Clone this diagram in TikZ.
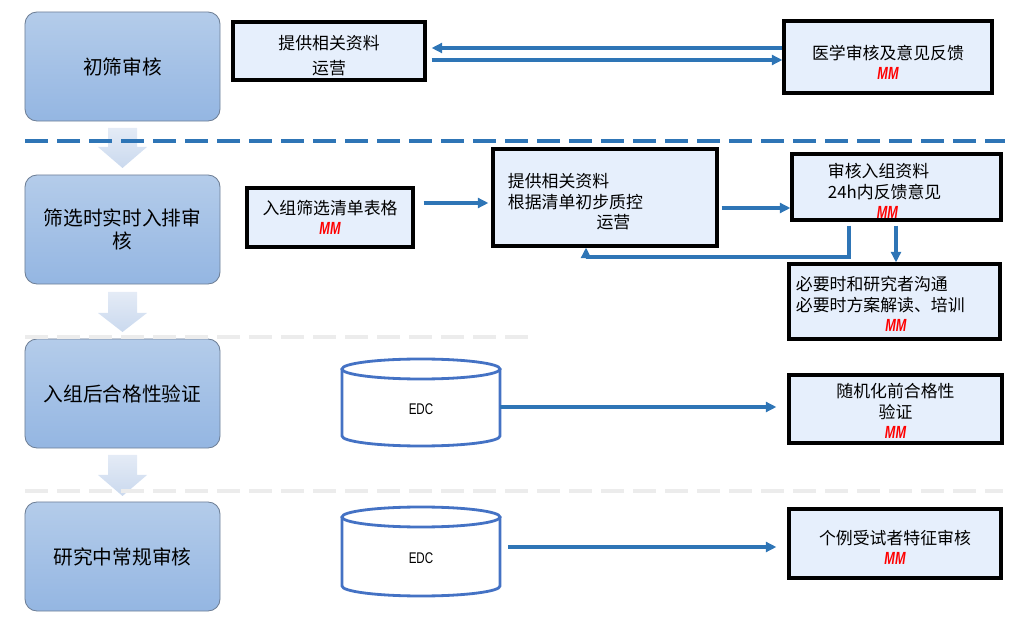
\documentclass[tikz,border=0pt]{standalone}
\usepackage{fontspec}
\setmainfont{Noto Sans CJK SC}
\newfontfamily\latinfont{Liberation Sans}
\usetikzlibrary{arrows.meta}
\definecolor{linkblue}{RGB}{46,117,182}
\definecolor{drumblue}{RGB}{68,114,196}
\definecolor{taskfill}{RGB}{230,239,252}
\definecolor{stagetop}{RGB}{180,204,234}
\definecolor{stagebottom}{RGB}{148,182,226}
\definecolor{stageedge}{RGB}{110,127,150}
\definecolor{flowtop}{RGB}{228,235,246}
\definecolor{flowbottom}{RGB}{202,217,238}
\definecolor{faintgray}{RGB}{236,236,236}
\newcommand{\mmtag}{{\latinfont\fontsize{12.5}{12.5}\selectfont\color{red}\scalebox{0.72}[1]{\bfseries\itshape MM}}}
\newcommand{\edclabel}{\scalebox{0.75}[1]{EDC}}
\newcommand{\topgap}[1]{\rule{0pt}{#1}}
\tikzset{
    > = {Triangle[length=7.5pt, width=7pt]},
    x = 0.025cm, y = -0.025cm,
    stage/.style = {rectangle, rounded corners=0.3cm, draw=stageedge, line width=0.6pt,
        top color=stagetop, bottom color=stagebottom, minimum width=4.875cm,
        minimum height=2.725cm, align=center, font=\fontsize{14}{17}\selectfont},
    task/.style = {rectangle, draw=black, line width=2.2pt, fill=taskfill, align=center,
        inner sep=0pt, font=\fontsize{12}{14.5}\selectfont},
    link/.style = {->, draw=linkblue, line width=2.2pt},
    drum/.style = {draw=drumblue, line width=2pt},
    sepline/.style = {line width=2.2pt, dash pattern=on 0.575cm off 0.225cm},
    flow/.style = {top color=flowtop, bottom color=flowbottom, draw=none}
}

\begin{document}
\begin{tikzpicture}
    \useasboundingbox (0,0) rectangle (1020,622);

    % big arrows between the stages
    \foreach \ya/\yb/\yc in {128/147/168, 292/313/332, 455/475/496}
        \path[flow] (108,\ya) -- (137,\ya) -- (137,\yb) -- (147,\yb) -- (122.5,\yc)
            -- (98,\yb) -- (108,\yb) -- cycle;

    \node[stage] (s1) at (122.5,66.5) {初筛审核};
    \node[stage] (s2) at (122.5,229.5) {筛选时实时入排审\\核};
    \node[stage] (s3) at (122.5,393.5) {入组后合格性验证};
    \node[stage] (s4) at (122.5,556.5) {研究中常规审核};

    \draw[sepline, linkblue] (25,141) -- (1005,141);
    \draw[sepline, faintgray] (25,337) -- (530,337);
    \draw[sepline, faintgray] (25,491) -- (1003,491);

    \node[task, minimum width=4.8cm, minimum height=1.45cm] (docs) at (329,51) {\topgap{17pt}提供相关资料\\[3pt]运营};
    \node[task, minimum width=5.2cm, minimum height=1.8cm] (medrev) at (888,57) {\topgap{18pt}医学审核及意见反馈\\\mmtag};

    \node[task, minimum width=4.15cm, minimum height=1.475cm] (form) at (330,217.5) {入组筛选清单表格\\\mmtag};
    \node[task, text width=4.85cm, align=left, inner xsep=0.375cm, minimum height=2.425cm] (prep)
        at (605,197.5) {\topgap{16pt}提供相关资料\\根据清单初步质控\\\hspace*{5.25em}运营};
    \node[task, text width=3.425cm, align=left, inner xsep=0.9cm, minimum height=1.65cm] (check)
        at (896.5,187) {\topgap{16pt}审核入组资料\\24h内反馈意见\\\hspace*{2.9em}\mmtag};
    \node[task, text width=4.925cm, align=left, inner xsep=0.175cm, minimum height=1.875cm] (talk)
        at (894.5,301.5) {\topgap{14pt}必要时和研究者沟通\\必要时方案解读、培训\\\hspace*{5.3em}\mmtag};

    \node[task, minimum width=5.325cm, minimum height=1.7cm] (elig) at (895.5,409) {\topgap{13pt}随机化前合格性\\验证\\\mmtag};
    \node[task, minimum width=5.3cm, minimum height=1.725cm] (subj) at (895,543.5) {\topgap{16pt}个例受试者特征审核\\\mmtag};

    % EDC drums
    \draw[drum] (342,369) -- (342,436) arc[start angle=180, end angle=360, x radius=1.975cm, y radius=0.25cm] -- (500,369);
    \draw[drum] (421,369) ellipse[x radius=1.975cm, y radius=0.25cm];
    \node[minimum width=3.95cm, font=\latinfont\fontsize{11}{11}\selectfont] (edcA) at (421,409) {\edclabel};

    \draw[drum] (342,517) -- (342,586) arc[start angle=180, end angle=360, x radius=1.975cm, y radius=0.25cm] -- (500,517);
    \draw[drum] (421,517) ellipse[x radius=1.975cm, y radius=0.25cm];
    \node[minimum width=3.95cm, font=\latinfont\fontsize{11}{11}\selectfont] (edcB) at (421,558) {\edclabel};

    \draw[link, shorten >=0.125cm] (medrev.west |- 0,48) -- (docs.east |- 0,48);
    \draw[link, shorten <=0.125cm] (docs.east |- 0,60) -- (medrev.west |- 0,60);
    \draw[link, shorten <=0.225cm, shorten >=0.075cm] (form.east |- 0,203) -- (prep.west |- 0,203);
    \draw[link, shorten <=0.075cm] (prep.east |- 0,208) -- (check.west |- 0,208);
    \draw[link, shorten <=0.1cm] (849,0 |- check.south) -- (849,257) -| (prep.south -| 586,0);
    \draw[link, shorten <=0.1cm] (896,0 |- check.south) -- (896,0 |- talk.north);
    \draw[link, shorten >=0.275cm] (edcA.east |- 0,407) -- (elig.west |- 0,407);
    \draw[link, shorten <=0.2cm, shorten >=0.275cm] (edcB.east |- 0,547) -- (subj.west |- 0,547);
\end{tikzpicture}
\end{document}
